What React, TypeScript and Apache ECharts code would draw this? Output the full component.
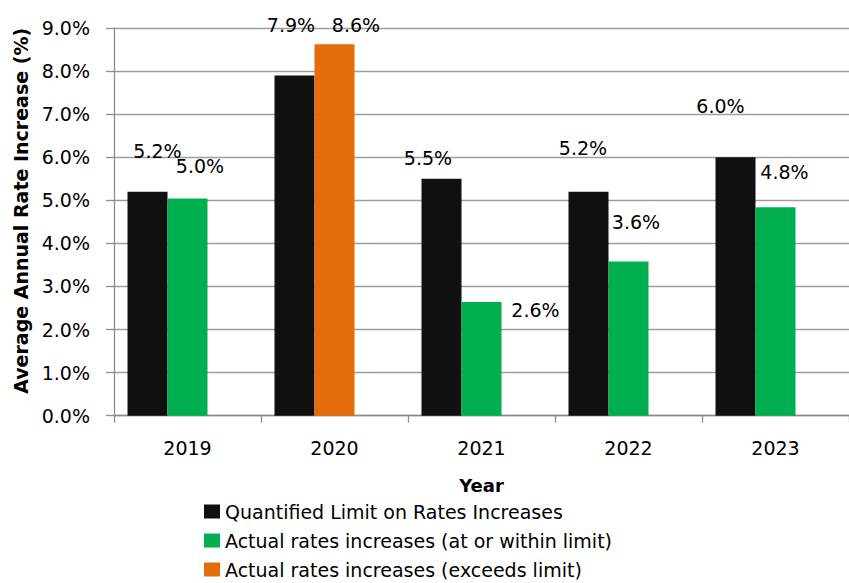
import React, { useEffect, useRef } from "react";
import * as echarts from "echarts";

const years = ["2019", "2020", "2021", "2022", "2023"];
const limitValues = [5.2, 7.9, 5.5, 5.2, 6.0];
const withinValues: (number | null)[] = [5.04, null, 2.64, 3.58, 4.84];
const exceedsValues: (number | null)[] = [null, 8.62, null, null, null];
const yTicks = { min: 0, max: 9, interval: 1 };

const seriesNames = [
  "Quantified Limit on Rates Increases",
  "Actual rates increases (at or within limit)",
  "Actual rates increases (exceeds limit)",
];

// label placement tweaks (style only)
const limitLabelOffsets = [[10, -26], [-3.5, -36], [-13.5, -6.5], [-5.5, -29], [-15, -37]];
const actualLabelOffsets = [[12.5, -18], [21.5, -4.5], [54, 22.5], [7.5, -25], [9, -21]];

const FONT = "DejaVu Sans";

export default function App() {
  const ref = useRef<HTMLDivElement>(null);
  useEffect(() => {
    if (!ref.current) return;
    const chart = echarts.init(ref.current, null, { renderer: "svg" });
    const fmt = (p: any) => Number(p.value).toFixed(1) + "%";
    const mk = (vals: (number | null)[], offs: number[][]) =>
      vals.map((v, i) =>
        v == null ? null : { value: v, label: { offset: offs[i] } }
      );
    const labelBase = {
      show: true,
      position: "top",
      distance: 5,
      formatter: fmt,
      color: "#000",
      fontSize: 19,
      fontFamily: FONT,
    };
    chart.setOption({
      animation: false,
      backgroundColor: "#fff",
      textStyle: { fontFamily: FONT },
      grid: { left: 114, right: -8, top: 28, bottom: 167.3, containLabel: false },
      legend: {
        data: seriesNames,
        orient: "vertical",
        left: 204,
        top: 502,
        padding: 0,
        itemWidth: 16,
        itemHeight: 14,
        itemGap: 10,
        icon: "rect",
        textStyle: { fontSize: 19, color: "#000", fontFamily: FONT },
      },
      xAxis: {
        type: "category",
        data: years,
        name: "Year",
        nameLocation: "middle",
        nameGap: 61,
        nameTextStyle: { fontSize: 18, fontWeight: "bold", color: "#000", fontFamily: FONT },
        axisLine: { lineStyle: { color: "#8c8c8c", width: 1.3 } },
        axisTick: { show: true, length: 7, lineStyle: { color: "#8c8c8c", width: 1.3 } },
        axisLabel: { margin: 23, fontSize: 19, color: "#000", fontFamily: FONT },
      },
      yAxis: {
        type: "value",
        min: yTicks.min,
        max: yTicks.max,
        interval: yTicks.interval,
        name: "Average Annual Rate Increase (%)",
        nameLocation: "middle",
        nameRotate: 90,
        nameGap: 80,
        nameTextStyle: {
          fontSize: 19,
          fontWeight: "bold",
          color: "#000",
          fontFamily: FONT,
          padding: [0, 0, 0, 22],
        },
        axisLine: { show: true, lineStyle: { color: "#8c8c8c", width: 1.3 } },
        axisTick: { show: true, length: 8, lineStyle: { color: "#8c8c8c", width: 1.3 } },
        axisLabel: {
          margin: 24,
          fontSize: 19,
          color: "#000",
          fontFamily: FONT,
          formatter: (v: number) => v.toFixed(1) + "%",
        },
        splitLine: { lineStyle: { color: "#9e9e9e", width: 1.3 } },
      },
      series: [
        {
          name: seriesNames[0],
          type: "bar",
          barWidth: 40,
          barGap: "0%",
          itemStyle: { color: "#101010" },
          label: labelBase,
          data: mk(limitValues, limitLabelOffsets),
        },
        {
          name: seriesNames[1],
          type: "bar",
          stack: "actual",
          barWidth: 40,
          barGap: "0%",
          itemStyle: { color: "#00b050" },
          label: labelBase,
          data: mk(withinValues, actualLabelOffsets),
        },
        {
          name: seriesNames[2],
          type: "bar",
          stack: "actual",
          barWidth: 40,
          barGap: "0%",
          itemStyle: { color: "#e46c0a" },
          label: labelBase,
          data: mk(exceedsValues, actualLabelOffsets),
        },
        {
          name: "spacer",
          type: "bar",
          barWidth: 40,
          barGap: "0%",
          data: years.map(() => null),
          silent: true,
        },
      ],
    });
    return () => chart.dispose();
  }, []);
  return (
    <div
      ref={ref}
      style={{ position: "absolute", left: 0, top: 0, width: 849, height: 583 }}
    />
  );
}
